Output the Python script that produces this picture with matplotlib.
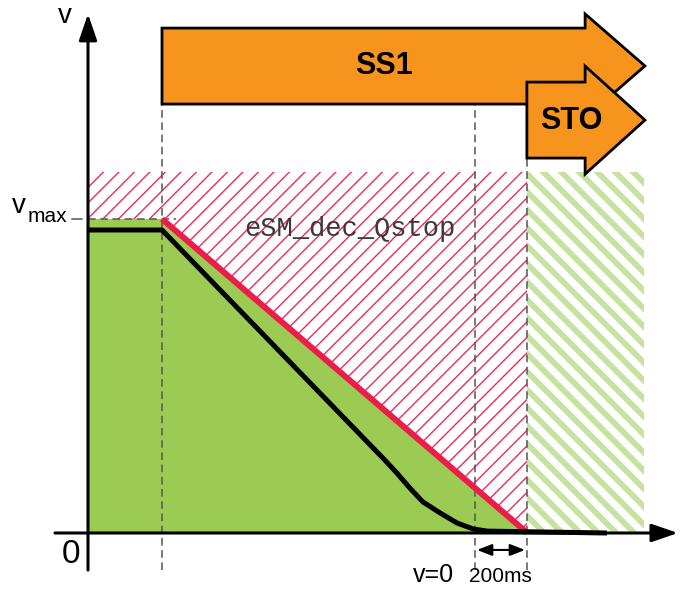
import matplotlib
matplotlib.use("Agg")
import matplotlib.pyplot as plt
from matplotlib.patches import Polygon, Rectangle
from matplotlib.collections import LineCollection
import numpy as np

plt.rcParams['font.family'] = ['Liberation Sans', 'DejaVu Sans']

# ---- data (time in units of 100 ms, velocity relative to v_max) ----
t_ss1 = 2.846          # SS1 triggered
t_v0 = 14.9            # motor reaches v = 0
t_sto = 16.9           # STO after 200 ms
t_end_hatch = 21.4
t_arrow_tip = 21.42
t_arrow_base = 19.12
v_max = 1.0
v_hatch_top = 1.15

# monitored deceleration ramp (eSM_dec_Qstop)
ramp_t = [t_ss1, t_sto]
ramp_v = [v_max, 0.0]

# actual velocity profile
vel_t = [0.0, 2.846, 11.42, 11.88, 12.38, 12.88, 13.54, 14.19, 14.81, 15.35, 19.96]
vel_v = [0.965, 0.965, 0.232, 0.191, 0.143, 0.099, 0.064, 0.032, 0.013, 0.006, 0.0]

# arrows (SS1 and STO)
ss1_body = (1.366, 1.608)
ss1_head = (1.322, 1.653)
sto_start = 16.88
sto_body = (1.194, 1.436)
sto_head = (1.143, 1.487)

# ---- figure ----
PX_T, PX_V = 26.0, 314.0
fig = plt.figure(figsize=(6.86, 5.91), dpi=100)
ax = fig.add_axes([0, 0, 1, 1])
ax.set_xlim(-88 / PX_T, (686 - 88) / PX_T)
ax.set_ylim((533 - 591) / PX_V, 533 / PX_V)
ax.axis('off')


def hatch(t0, t1, v0, v1, spacing_px, sign, color, lw, z):
    rect = Rectangle((t0, v0), t1 - t0, v1 - v0, facecolor='none', edgecolor='none')
    ax.add_patch(rect)
    h_px = (v1 - v0) * PX_V
    start = t0 * PX_T - h_px - spacing_px
    stop = t1 * PX_T + h_px + spacing_px
    segs = []
    for x0 in np.arange(start, stop, spacing_px):
        xa, ya = x0, v0 * PX_V
        xb, yb = x0 + sign * (h_px + 50), (v0 * PX_V) + (h_px + 50)
        segs.append([(xa / PX_T, ya / PX_V), (xb / PX_T, yb / PX_V)])
    lc = LineCollection(segs, colors=color, linewidths=lw, zorder=z)
    ax.add_collection(lc)
    lc.set_clip_path(rect)


# hatched zones
hatch(0, t_sto, 0, v_hatch_top, 15.5, 1, '#EC2A5C', 1.0, 1)
hatch(t_sto, t_end_hatch, 0, v_hatch_top, 18, -1, '#C6E2A0', 4.2, 1)

# green area under the ramp
green = Polygon([(0, 0), (0, v_max), (ramp_t[0], ramp_v[0]), (ramp_t[1], ramp_v[1])],
                closed=True, facecolor='#9BCB52', edgecolor='none', zorder=2)
ax.add_patch(green)

# dashed guide lines
dash_kw = dict(color='#555555', lw=1.1, dashes=(5, 3), zorder=3)
ax.plot([t_ss1, t_ss1], [-0.118, ss1_body[0]], **dash_kw)
ax.plot([t_v0, t_v0], [-0.118, ss1_body[0]], **dash_kw)
ax.plot([t_sto, t_sto], [-0.118, sto_body[0]], **dash_kw)
ax.plot([0, 3.4], [v_max, v_max], **dash_kw)
ax.plot([-0.62, -0.23], [v_max, v_max], color='#555555', lw=1.1, zorder=3)

# ramp and velocity
ax.plot(ramp_t, ramp_v, color='#EC1C4B', lw=4.3, solid_capstyle='butt', zorder=4)
ax.plot(vel_t, vel_v, color='black', lw=3.6, solid_capstyle='butt',
        solid_joinstyle='round', zorder=5)

# axes with arrows
ax.annotate('', xy=(0, 1.653), xytext=(0, -0.118),
            arrowprops=dict(arrowstyle='-|>,head_length=1.6,head_width=0.55',
                            lw=2.2, color='black', shrinkA=0, shrinkB=0), zorder=6)
ax.annotate('', xy=(22.69, 0), xytext=(-1.27, 0),
            arrowprops=dict(arrowstyle='-|>,head_length=1.6,head_width=0.55',
                            lw=2.2, color='black', shrinkA=0, shrinkB=0), zorder=6)

# 200 ms dimension arrow
ax.annotate('', xy=(16.81, -0.054), xytext=(14.96, -0.054),
            arrowprops=dict(arrowstyle='<|-|>,head_length=0.9,head_width=0.35',
                            lw=1.5, color='black', shrinkA=0, shrinkB=0), zorder=6)

# SS1 / STO arrows
ss1 = Polygon([(t_ss1, ss1_body[1]), (t_arrow_base, ss1_body[1]), (t_arrow_base, ss1_head[1]),
               (t_arrow_tip, (ss1_head[0] + ss1_head[1]) / 2), (t_arrow_base, ss1_head[0]),
               (t_arrow_base, ss1_body[0]), (t_ss1, ss1_body[0])],
              closed=True, facecolor='#F7941E', edgecolor='black', lw=2.0,
              joinstyle='miter', zorder=7)
ax.add_patch(ss1)
sto = Polygon([(sto_start, sto_body[1]), (t_arrow_base, sto_body[1]), (t_arrow_base, sto_head[1]),
               (t_arrow_tip, (sto_head[0] + sto_head[1]) / 2), (t_arrow_base, sto_head[0]),
               (t_arrow_base, sto_body[0]), (sto_start, sto_body[0])],
              closed=True, facecolor='#F7941E', edgecolor='black', lw=2.0,
              joinstyle='miter', zorder=8)
ax.add_patch(sto)

# texts
ax.text(11.38, 1.487, 'SS1', fontsize=22, fontweight='bold', ha='center', va='center', zorder=9)
ax.text(18.58, 1.312, 'STO', fontsize=22, fontweight='bold', ha='center', va='center', zorder=9)
ax.text(10.08, 0.968, 'eSM_dec_Qstop', fontsize=19.5, family='Liberation Mono',
        color='#3a3a3a', ha='center', va='center', zorder=9)
ax.text(-0.885, 1.646, 'v', fontsize=20, ha='center', va='center', zorder=9)
ax.text(-2.92, 1.019, 'v', fontsize=20, ha='left', va='baseline', zorder=9)
ax.text(-2.33, 0.990, 'max', fontsize=15, ha='left', va='baseline', zorder=9)
ax.text(-0.65, -0.070, '0', fontsize=24, ha='center', va='center', zorder=9)
ax.text(13.3, -0.134, 'v=0', fontsize=18, ha='center', va='center', zorder=9)
ax.text(15.88, -0.137, '200ms', fontsize=15, ha='center', va='center', zorder=9)

fig.savefig('out.png', dpi=100)
